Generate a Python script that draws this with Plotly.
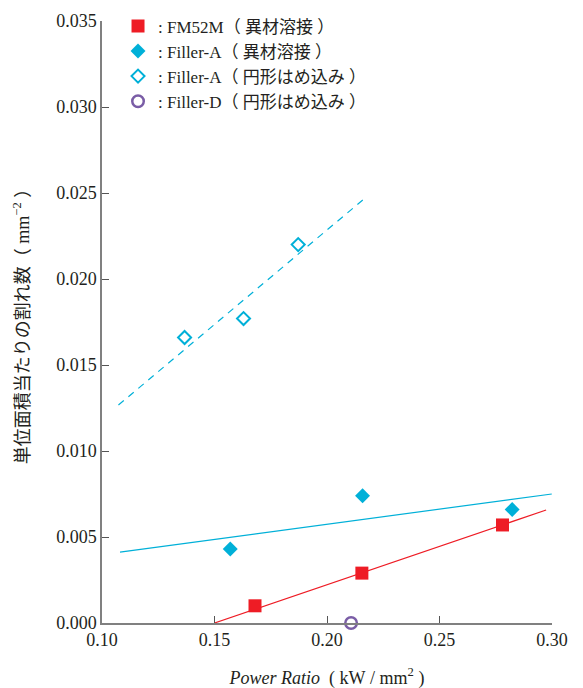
import plotly.graph_objects as go

# Data
fm52m_x = [0.168, 0.2155, 0.278]
fm52m_y = [0.0010, 0.0029, 0.0057]
fillA_x = [0.157, 0.2158, 0.2823]
fillA_y = [0.0043, 0.0074, 0.0066]
fillA_ring_x = [0.1367, 0.1629, 0.1872]
fillA_ring_y = [0.0166, 0.0177, 0.0220]
fillD_x = [0.2107]
fillD_y = [0.0]

# Fitted lines (endpoints)
fm52m_fit_x = [0.150, 0.2974]
fm52m_fit_y = [0.0, 0.00657]
fillA_fit_x = [0.108, 0.2999]
fillA_fit_y = [0.00412, 0.0075]
ring_fit_x = [0.1073, 0.2164]
ring_fit_y = [0.01267, 0.02465]

RED = "#EE1C25"
BLUE = "#00B0D8"
PURPLE = "#7A5DA6"
AX = "#808080"
TXT = "#231F20"
FONT = "Liberation Serif, Noto Sans CJK JP, serif"
SP = "\u00a0"

fig = go.Figure()
fig.add_trace(go.Scatter(x=fm52m_fit_x, y=fm52m_fit_y, mode="lines",
                         line=dict(color=RED, width=1.2), showlegend=False, cliponaxis=False))
fig.add_trace(go.Scatter(x=fillA_fit_x, y=fillA_fit_y, mode="lines",
                         line=dict(color=BLUE, width=1.2), showlegend=False, cliponaxis=False))
fig.add_trace(go.Scatter(x=ring_fit_x, y=ring_fit_y, mode="lines",
                         line=dict(color=BLUE, width=1.2, dash="7px,6px"), showlegend=False, cliponaxis=False))

fig.add_trace(go.Scatter(x=fm52m_x, y=fm52m_y, mode="markers",
                         marker=dict(symbol="square", size=13, color=RED),
                         name=": FM52M（" + SP + "異材溶接" + SP + "）", cliponaxis=False))
fig.add_trace(go.Scatter(x=fillA_x, y=fillA_y, mode="markers",
                         marker=dict(symbol="diamond", size=11.5, color=BLUE),
                         name=": Filler-A（" + SP + "異材溶接" + SP + "）", cliponaxis=False))
fig.add_trace(go.Scatter(x=fillA_ring_x, y=fillA_ring_y, mode="markers",
                         marker=dict(symbol="diamond-open", size=10, color=BLUE,
                                     line=dict(width=2, color=BLUE)),
                         name=": Filler-A（" + SP + "円形はめ込み" + SP + "）", cliponaxis=False))
fig.add_trace(go.Scatter(x=fillD_x, y=fillD_y, mode="markers",
                         marker=dict(symbol="circle-open", size=11.5, color=PURPLE,
                                     line=dict(width=2.5, color=PURPLE)),
                         name=": Filler-D（" + SP + "円形はめ込み" + SP + "）", cliponaxis=False))

fig.update_layout(
    width=583, height=688,
    paper_bgcolor="white", plot_bgcolor="white",
    margin=dict(l=94, r=39, t=13, b=73, autoexpand=False),
    font=dict(family=FONT, size=18, color=TXT),
    legend=dict(x=0.0356, y=1.021, xanchor="left", yanchor="top",
                bgcolor="rgba(0,0,0,0)", font=dict(size=17, family=FONT, color=TXT),
                itemwidth=30, tracegroupgap=0),
    xaxis=dict(range=[0.10, 0.30], tickvals=[0.10, 0.15, 0.20, 0.25, 0.30],
               tickformat=".2f", showgrid=False, zeroline=False,
               showline=True, linecolor=AX, linewidth=1.5,
               ticks="inside", ticklen=7, tickcolor="#555555", tickwidth=1,
               tickfont=dict(size=18, family=FONT, color=TXT),
               title=dict(text="<i>Power Ratio</i>" + SP + SP + "(" + SP + "kW" + SP + "/" + SP + "mm<sup>2</sup>" + SP + ")",
                          font=dict(size=18, family=FONT, color=TXT), standoff=22)),
    yaxis=dict(range=[0, 0.035], tickvals=[0, 0.005, 0.010, 0.015, 0.020, 0.025, 0.030, 0.035],
               tickformat=".3f", showgrid=False, zeroline=False,
               showline=True, linecolor=AX, linewidth=1.5,
               ticks="inside", ticklen=7, tickcolor="#555555", tickwidth=1,
               tickfont=dict(size=18, family=FONT, color=TXT),
               title=dict(text="単位面積当たりの割れ数（" + SP + "mm<sup>−2</sup>" + SP + "）",
                          font=dict(size=18, family=FONT, color=TXT), standoff=22)),
)

fig.write_html("out.html")
